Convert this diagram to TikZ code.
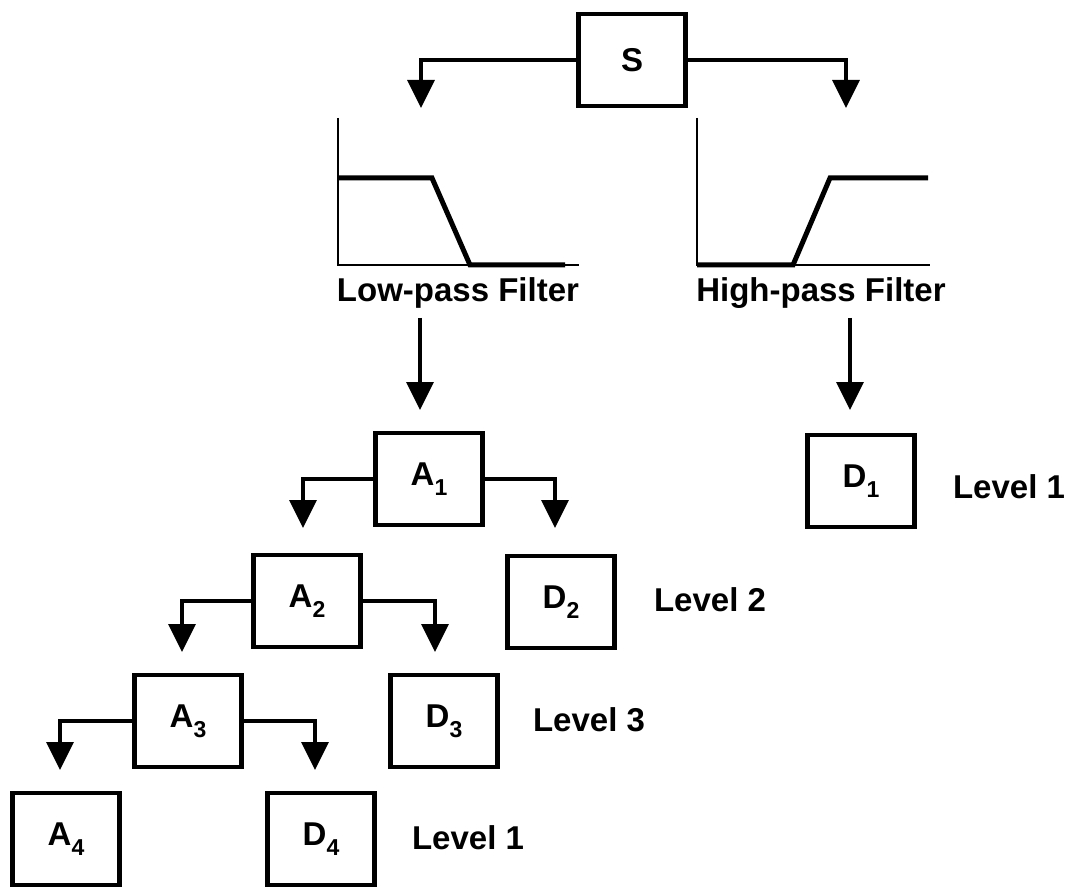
\documentclass[tikz,border=0pt]{standalone}
\usepackage{fontspec}
\setmainfont{Liberation Sans}
\usetikzlibrary{arrows.meta}
\newcommand\lowsub[1]{\raisebox{-0.3em}{\fontsize{23}{23}\selectfont #1}}
\begin{document}
\begin{tikzpicture}[x=1pt,y=-1pt,
  box/.style={draw, line width=4.5pt, minimum width=107pt, minimum height=92pt, inner sep=0pt, font=\fontsize{33}{33}\selectfont\bfseries},
  conn/.style={line width=3.5pt, -{Triangle[width=27pt,length=28pt]}},
  lbl/.style={font=\fontsize{33}{33}\selectfont\bfseries, inner sep=0pt},
  axisline/.style={line width=1.5pt},
  resp/.style={line width=5pt, line join=miter},
]
\useasboundingbox (0,0) rectangle (1073,890);

% boxes
\node[box] (S)  at (632,60)  {S};
\node[box] (A1) at (429,479) {A\lowsub{1}};
\node[box] (D1) at (861,481) {D\lowsub{1}};
\node[box] (A2) at (307,601) {A\lowsub{2}};
\node[box] (D2) at (561,602) {D\lowsub{2}};
\node[box] (A3) at (188,721) {A\lowsub{3}};
\node[box] (D3) at (444,721) {D\lowsub{3}};
\node[box] (A4) at (66,839)  {A\lowsub{4}};
\node[box] (D4) at (321,839) {D\lowsub{4}};

% level labels
\node[lbl] (lv1a) at (1009,487) {Level 1};
\node[lbl] (lv2)  at (710,600)  {Level 2};
\node[lbl] (lv3)  at (589,720)  {Level 3};
\node[lbl] (lv1b) at (468,838)  {Level 1};

% arrow end points
\coordinate (sL) at (421,108);
\coordinate (sR) at (846,108);
\coordinate (a1L) at (303,528);
\coordinate (a1R) at (555,528);
\coordinate (a2L) at (182,652);
\coordinate (a2R) at (435,652);
\coordinate (a3L) at (60,770);
\coordinate (a3R) at (315,770);

\draw[conn] (S.west) -| (sL);
\draw[conn] (S.east) -| (sR);
\draw[conn] (A1.west) -| (a1L);
\draw[conn] (A1.east) -| (a1R);
\draw[conn] (A2.west) -| (a2L);
\draw[conn] (A2.east) -| (a2R);
\draw[conn] (A3.west) -| (a3L);
\draw[conn] (A3.east) -| (a3R);

% filter plots
\draw[axisline] (338,118) -- (338,265) -- (579,265);
\draw[resp] (338,178) -- (432,178) -- (470,265) -- (565,265);
\draw[axisline] (697,118) -- (697,265) -- (930,265);
\draw[resp] (697,265) -- (793,265) -- (830,178) -- (928,178);

\node[lbl] (lpl) at (458,293) {Low-pass Filter};
\node[lbl] (hpl) at (821,293) {High-pass Filter};

\coordinate (lpa) at (420,318);
\coordinate (lpb) at (420,410);
\coordinate (hpa) at (850,318);
\coordinate (hpb) at (850,410);
\draw[conn] (lpa) -- (lpb);
\draw[conn] (hpa) -- (hpb);
\end{tikzpicture}
\end{document}
